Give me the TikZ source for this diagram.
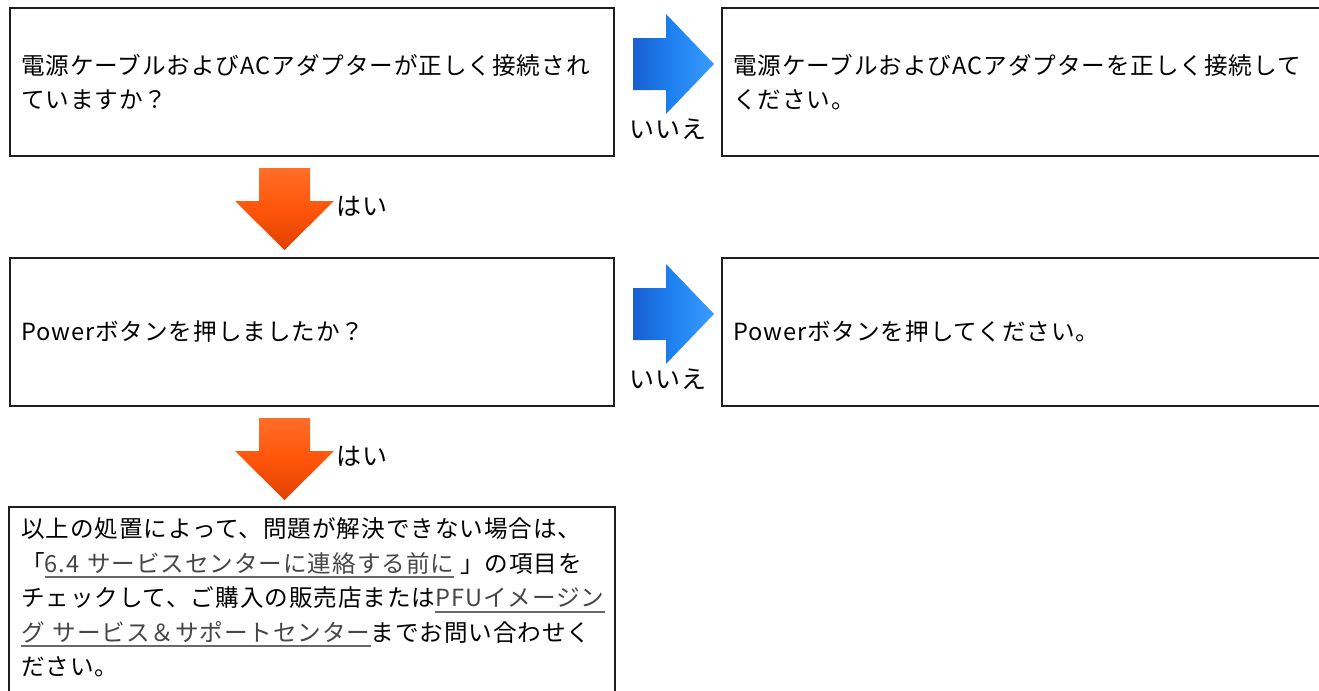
\documentclass[tikz,border=0pt]{standalone}
\usepackage{fontspec}
\setmainfont{Noto Sans CJK JP}[LetterSpace=4]
\usetikzlibrary{calc}
\definecolor{inkline}{RGB}{30, 30, 30}
\definecolor{linktext}{RGB}{70, 70, 70}
\definecolor{linkline}{RGB}{105, 105, 105}
\definecolor{bluedark}{RGB}{25, 95, 210}
\definecolor{bluemain}{RGB}{30, 130, 240}
\definecolor{bluelight}{RGB}{60, 155, 255}
\definecolor{orangedark}{RGB}{225, 65, 0}
\definecolor{orangemain}{RGB}{255, 85, 10}
\definecolor{orangelight}{RGB}{255, 110, 40}
\tikzset{
    qbox/.style   ={draw=inkline, line width=1pt, anchor=north west, align=left,
                    text width=291pt, inner xsep=5.5pt, minimum height=74pt,
                    font=\fontsize{11.8pt}{17.25pt}\selectfont},
    abox/.style   ={qbox, text width=310pt},
    endbox/.style ={qbox, draw=none, minimum height=0pt, inner ysep=5pt},
    frame/.style  ={draw=inkline, line width=1pt},
    lbl/.style    ={font=\fontsize{12.5pt}{14pt}\selectfont, inner sep=0pt},
    noshade/.style={left color=bluedark, right color=bluelight, middle color=bluemain},
    yesshade/.style={top color=orangelight, bottom color=orangedark, middle color=orangemain}
}
\newcommand{\lnk}[1]{\leavevmode{\setbox0\hbox{#1}\rlap{\color{linkline}\rule[-2.8pt]{\wd0}{0.8pt}}\textcolor{linktext}{\box0}}}
\newcommand{\noarrow}[1]{\shade[noshade, shift={(#1)}]
    (0,-26) -- (33,-26) -- (33,-50) -- (81,0) -- (33,50) -- (33,26) -- (0,26) -- cycle;}
\newcommand{\yesarrow}[1]{\shade[yesshade, shift={(#1)}]
    (-25.5,0) -- (25.5,0) -- (25.5,33) -- (49.5,33) -- (0,82) -- (-49.5,33) -- (-25.5,33) -- cycle;}

\begin{document}
\begin{tikzpicture}[x=0.5pt, y=-0.5pt]
  \useasboundingbox (0,0) rectangle (1319,691);
  \clip (0,0) rectangle (1319,691);

  % question / answer boxes
  \node[qbox] (q1) at (9,7) {電源ケーブルおよびACアダプターが正しく接続され\\ていますか？};
  \node[abox] (a1) at (721,7) {電源ケーブルおよびACアダプターを正しく接続して\\ください。};
  \node[qbox] (q2) at (9,257) {Powerボタンを押しましたか？};
  \node[abox] (a2) at (721,257) {Powerボタンを押してください。};
  \node[endbox] (fin) at (9,507) {以上の処置によって、問題が解決できない場合は、\\
    「\lnk{6.4 サービスセンターに連絡する前に}\hspace{3pt}」の項目を\\
    チェックして、ご購入の販売店または\lnk{PFUイメージン}\\
    \lnk{グ サービス＆サポートセンター}までお問い合わせく\\
    ださい。};
  \draw[frame] ($(fin.south west)+(0,60)$) |- (fin.north east) -- ($(fin.south east)+(0,60)$);

  % arrows
  \coordinate (no1) at ($(q1.east)+(18,-18)$);
  \coordinate (no2) at ($(q2.east)+(18,-18)$);
  \coordinate (yes1) at ($(q1.south)+(-27.5,11)$);
  \coordinate (yes2) at ($(q2.south)+(-27.5,11)$);
  \noarrow{no1}
  \noarrow{no2}
  \yesarrow{yes1}
  \yesarrow{yes2}
  \node[lbl] (nolbl1) at ($(no1)+(35,65.5)$) {いいえ};
  \node[lbl] (nolbl2) at ($(no2)+(35,65.5)$) {いいえ};
  \node[lbl] (yeslbl1) at ($(yes1)+(77.5,38.5)$) {はい};
  \node[lbl] (yeslbl2) at ($(yes2)+(77.5,38.5)$) {はい};
\end{tikzpicture}
\end{document}
